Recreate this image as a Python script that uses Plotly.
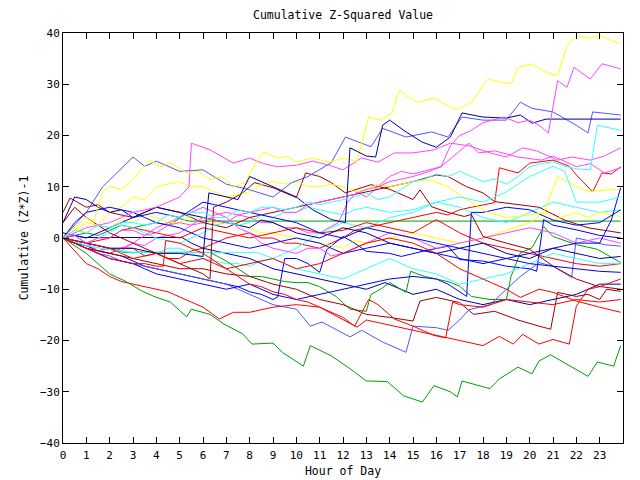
import plotly.graph_objects as go

# Each series: list of (hour, cumulative value)
yellow_top = [(0,0),(0.5,2),(1,4),(1.3,3),(1.7,9),(2,10),(2.5,9.5),(3,11.4),(3.7,15.2),(4.2,13.9),(4.6,14.7),(5.3,12.7),(5.8,13),(6.3,11.4),(6.8,12),(7.3,10),(7.8,10.8),(8.3,15),(8.6,16.8),(9.2,15.6),(9.6,16),(10,14.8),(10.7,15.6),(11.4,14.8),(12,15.6),(12.6,15),(13.1,23.6),(13.6,23),(14.1,24.4),(14.4,28.8),(14.8,27.5),(15.2,26.5),(15.9,27.3),(16.4,26),(16.9,25),(17.5,26.5),(18.2,31),(18.7,30.5),(19.2,30),(19.5,33.3),(20.1,34),(20.7,32.3),(21.2,31.7),(21.6,37.6),(22,39.5),(22.6,39),(23,39.6),(23.5,38.5),(23.9,38)]
yellow_mid = [(0,0),(0.5,1.5),(1,3),(1.5,2.5),(2,5),(2.5,6),(3,8),(3.5,7.5),(4,10),(4.5,10.5),(5,11),(5.5,10),(6,10),(6.5,9),(7,8),(7.5,8.5),(8,9),(8.5,10.5),(9,11),(9.5,10.5),(10,11),(10.5,10),(11,10),(11.5,10.5),(12,10),(12.5,9),(13,9.5),(13.5,10.5),(14,10),(14.5,10.5),(15,11),(15.7,11.4),(16.5,10),(17.3,7.5),(18.2,5),(19,4),(20,4.5),(20.6,5),(21.2,12),(22,10),(22.6,9),(23.2,9.4),(23.9,9.4)]
yellow_low = [(0,0),(0.5,2),(1,1),(1.5,2.5),(2,2),(2.5,3.5),(3,3),(3.5,4.5),(4,4),(4.5,3),(5,3),(5.5,4.5),(6,4),(6.5,3),(7,3),(7.5,2.5),(8,2),(8.5,1),(9,1),(9.5,0.5),(10,0),(11,-1),(12,-2),(12.5,-0.5),(13,-1),(14,0),(15,1),(16,0),(17,-1),(18,0),(19,1.5),(20,3),(20.7,5.1),(21,3.5),(22,5),(22.5,4),(23,5),(23.9,4.2)]

magenta_top = [(0,0),(0.5,0.5),(1,-1),(1.5,0),(2,0),(2.5,1.5),(3,1.5),(3.5,0.5),(4,1),(4.5,2.5),(5,3),(5.5,2.5),(6,4),(6.5,3.5),(7,3),(7.5,4.5),(8,5),(8.5,5.5),(9,6),(9.5,5),(10,5),(10.5,6.5),(11,7),(11.5,7.5),(12,8),(12.5,8.5),(13,9.5),(13.5,10),(14,11),(14.5,11.5),(15,12),(15.7,13),(16.2,13.9),(16.6,18),(17,20),(17.5,21),(18,22.5),(18.9,23.6),(19.5,22.5),(20,23),(20.4,22),(20.8,20.5),(21.2,30.7),(21.6,29.4),(21.9,33.3),(22.6,31),(23.1,34),(23.9,33)]
magenta_mid = [(0,0),(1,2),(2,3),(3,5),(4,6),(5,8),(5.4,10),(5.5,18.5),(6.3,17.2),(7.3,14.6),(8,15.6),(8.6,14.5),(9.2,13.9),(10,14.2),(10.7,15),(11.4,14.2),(12,13.3),(12.8,15.6),(13.5,14.8),(14.2,16.6),(15,16.6),(15.9,17.2),(16.6,18.5),(17.4,18),(18.3,16.6),(19,15.8),(19.7,17.6),(20.3,17),(21.2,15.2),(21.8,15.8),(22.6,15.2),(23.2,16),(23.9,17.6)]
magenta_low = [(0,0),(0.5,-0.5),(1,-1),(1.5,-2.5),(2,-2),(2.5,-2.5),(3,-1),(3.5,-1.5),(4,0),(4.5,0.5),(5,1),(5.5,2.5),(6,3),(6.5,4.5),(7,5),(7.5,4.5),(8,4),(8.5,3),(9,3),(9.5,2),(10,2),(10.5,1),(11,1),(11.8,3),(12.2,7),(12.6,9),(13,8),(14,12),(14.5,13),(15,12.5),(16.2,13.9),(17.4,18.5),(17.8,16.6),(18.5,17),(19.5,15.8),(20.5,15.2),(21,16),(22,13.9),(22.6,14.5),(23.2,12.7),(23.9,13.7)]
magenta_bot = [(0,0),(0.5,-0.5),(1,-1),(1.5,-2.5),(2,-2),(2.5,-2),(3,-1),(3.5,0.5),(4,2),(4.5,3),(5,4),(5.5,5),(6,6),(6.5,5),(7,4),(7.5,2),(8,1),(8.5,-1),(9,-2),(9.5,-2.5),(10,-3),(10.5,-2),(11,-2),(11.5,-3.5),(12,-3),(12.5,-2),(13,-1),(14,1),(15,0),(16,-2),(17,-1),(18,0),(19,1),(20,2),(21,1),(22,-1),(23,0),(23.9,-1)]

cyan_jump = [(0,0),(0.5,1.5),(1,1),(1.5,2.5),(2,2),(2.5,3),(3,3),(3.5,2.5),(4,3),(4.5,4.5),(5,4),(5.5,5),(6,5),(6.5,4),(7,4),(7.5,5.5),(8,5),(8.5,6),(9,6),(9.5,5.5),(10,6),(10.5,7),(11,6.5),(11.5,7),(12,7.5),(12.5,8),(13,8.8),(13.5,7.5),(14,8),(14.5,9.5),(15,11),(15.5,11.5),(16,12.5),(16.5,12),(17,13),(17.5,12),(18,11),(18.5,11.5),(19,10.5),(19.5,12),(20,13.9),(20.5,14.5),(21,14.9),(21.5,14),(22,13.5),(22.6,13.3),(22.9,22),(23.4,21.5),(23.9,21)]
cyan_mid = [(0,0),(0.5,0.5),(1,-1),(1.5,0),(2,1),(2.5,2.5),(3,2),(3.5,1),(4,0),(4.5,-0.5),(5,-1),(5.5,0),(6,1),(6.5,2.5),(7,3),(7.5,2.5),(8,3),(8.5,4.5),(9,4),(9.5,5),(10,5),(10.5,6),(11,5.5),(11.5,5),(12,4.5),(12.5,5.5),(13,6),(13.5,5.5),(14,5),(15,5.5),(16,7),(17,8),(18,7),(19,9),(20,12),(21,14),(21.5,13),(22,7),(23,7),(23.9,8)]
cyan_low = [(0,0),(0.5,-0.5),(1,-1),(1.5,-1.5),(2,-2),(2.5,-2.5),(3,-3),(3.5,-2.5),(4,-3),(4.5,-2),(5,-2),(5.5,-3),(6,-4),(6.5,-4.5),(7,-5),(7.5,-5),(8,-5.5),(8.5,-4.5),(9,-4),(9.5,-3),(10,-2),(10.5,-0.5),(11,1),(11.5,2),(12,3),(13,2),(14,4),(15,5),(16,7),(17,6),(18,4),(19,3),(20,5),(21,7),(22,6),(23,5),(23.9,5.5)]
cyan_flat = [(0,0),(1,-1.5),(2,-2.3),(2.9,-2.8),(8.3,-2.8),(9,-4),(10,-6),(11,-7),(12,-8),(13,-6),(14,-4),(15,-6),(16,-7),(17,-9),(18,-8),(19,-7),(20,-5),(21,-3),(22,-4),(23,-5),(23.9,-5)]

green_flat = [(0,0),(0.5,0.5),(1,1),(1.5,0.5),(2,1.5),(2.5,2.5),(3,2),(3.5,2.5),(4,3),(4.5,2.5),(5,3.8),(5.4,3.3),(23.9,3.3)]
green_mid = [(0,0),(0.5,-0.5),(1,-1),(1.5,-1.5),(2,-2),(2.6,-2.8),(6.3,-2.8),(7,-4.5),(7.5,-6),(8,-7.5),(8.5,-7.5),(9,-8),(9.5,-8.5),(10,-8.7),(10.5,-8.7),(11,-9.5),(11.7,-11.4),(12.3,-13.9),(13,-14.3),(13.2,-11),(13.6,-10),(14,-8.7),(14.7,-10.6),(14.9,-6.5),(15.5,-7.5),(16,-8),(16.5,-8.5),(17,-9.4),(17.5,-11.4),(18.3,-12),(19,-12),(19.2,-7.5),(19.6,-2.9),(20.1,-1.9),(20.6,2.2),(21,0.3),(22,-1.3),(22.9,-2.2),(23.9,-4.8)]
green_bottom = [(0,0),(0.5,-1.5),(1,-3),(1.5,-5),(2,-7),(2.7,-8.5),(3.4,-10.4),(3.9,-11.4),(4.6,-12.5),(5.3,-15.4),(5.5,-13.9),(6.3,-14.9),(6.9,-16.8),(7.7,-18.7),(8.1,-20.7),(9,-20.5),(9.4,-22.3),(10.3,-25),(10.6,-21),(11.5,-23),(12.3,-25.5),(13,-27.9),(13.9,-28),(14.6,-30.8),(15.4,-32),(15.9,-28.8),(16.6,-30),(16.9,-31),(17.1,-27.9),(18.3,-29.4),(18.7,-27.5),(19.5,-25.2),(20.1,-26.5),(20.4,-24),(20.9,-22.8),(22.5,-27),(22.9,-24.2),(23.6,-25),(23.9,-21)]

red_upper = [(0,0),(0.5,-1),(1,-2),(1.5,-2.5),(2,-3),(2.5,-2),(3,-2),(3.5,-3.5),(4,-3),(4.5,-4),(5,-4),(5.5,-2.5),(6,-2),(6.5,-1),(7,0),(7.5,0.5),(8,1),(8.5,0),(9,0),(9.5,-1),(10,-1),(10.5,-1.5),(11,-2),(11.5,-1),(12,0),(12.5,1.5),(13,2),(13.5,2.5),(14,3),(14.5,3.5),(15,4),(15.5,4.5),(16,5),(16.5,4.5),(17,5.5),(17.5,6),(18,6.5),(18.5,6.9),(18.7,13.7),(19.5,12.7),(20,14.6),(21,15.2),(21.7,14),(22,12.3),(22.7,9),(23.1,12.7),(23.5,12.5),(23.9,13.9)]
red_mid = [(0,0),(0.5,0.5),(1,-1),(1.5,-0.5),(2,0),(2.5,1.5),(3,2),(3.5,1.5),(4,1),(4.5,0.5),(5,0),(5.5,1),(6,2),(6.5,1.5),(7,1),(7.5,0.5),(8,0),(8.5,0.5),(9,1),(9.5,1.5),(10,2),(10.5,1.5),(11,1),(12,1.5),(13,3),(14,2),(15,1),(16,3.6),(17,1),(18,-1),(19,-2),(20,-3),(21,-4),(22,-5),(23,-5.5),(23.9,-5)]
red_low = [(0,0),(0.5,-2.5),(1,-5),(1.5,-6),(2,-7.5),(2.5,-8.5),(3,-9),(3.5,-9.5),(4,-10),(4.5,-10.5),(5,-11.5),(5.5,-12.5),(6,-13.5),(6.7,-15.8),(7.3,-14.5),(8,-14.5),(9,-13.5),(10,-13),(11,-13.5),(11.7,-15.2),(12.6,-17.4),(13,-16),(14,-17),(15,-18),(16,-19),(17,-20),(18,-21),(18.7,-19.2),(19.3,-20.7),(19.7,-18.8),(20.4,-20.7),(21,-19.8),(21.7,-20.7),(22,-13.3),(22.5,-10),(23,-9.5),(23.9,-8)]
red_low2 = [(0,0),(0.5,-0.5),(1,-1),(1.5,-1.5),(2,-2),(2.5,-3),(3,-4),(3.5,-3.5),(4,-3),(4.5,-4),(5,-5),(5.5,-4.5),(6,-4),(6.5,-5),(7,-6),(7.5,-5.5),(8,-5),(8.5,-4.5),(9,-4),(9.5,-5),(10,-6),(10.5,-5.5),(11,-5),(12,-3),(13,-1),(14,0),(15,-1),(16,-3),(17,-6),(18,-8),(19,-10),(19.6,-11.6),(20.4,-10),(21,-10.6),(22,-12.3),(23,-13.5),(23.9,-14.5)]
red_jump = [(0,0),(0.5,-1),(1,-2),(1.5,-3),(2,-4),(2.5,-4.5),(3,-5),(3.5,-5),(4,-5.5),(4.3,-5.5),(4.4,-0.5),(5,-1),(5.5,-2),(6,-3),(6.5,-4.5),(7,-6),(7.5,-7.5),(8,-9),(8.5,-9.5),(9,-10.5),(9.5,-11),(10,-12),(10.5,-12.5),(11,-13.5),(11.5,-14.5),(12,-15.5),(12.5,-17.2),(13.1,-12),(13.5,-13),(14.2,-15.8),(15,-17.2),(15.9,-19),(16.4,-19.5),(16.7,-12.5),(17,-13),(18,-13.5),(19,-12),(20,-12.5),(21,-13),(22,-12),(23,-12.5),(23.9,-12)]

dkred_a = [(0,5),(0.3,7.8),(1,6),(1.5,6.5),(2,5),(2.5,4.5),(3,4),(3.5,5),(4,6),(4.5,5.5),(5,5),(5.5,4),(6,3),(6.5,2.5),(7,2),(7.5,3),(8,4),(8.5,4.5),(9,5),(9.5,5.5),(10,6),(10.5,6.5),(11,7),(11.5,7.5),(12,8),(13,9),(14,10),(15,11),(16,12.3),(16.5,12),(17.3,10),(18,8.8),(18.5,7.1),(19.5,6.5),(20.4,6),(21.5,3.5),(22.5,2),(23.9,1)]
dkred_b = [(0,3),(0.5,6),(1,4),(1.5,2.5),(2,1),(2.5,0),(3,-1),(3.5,-2),(4,-3),(4.5,-4),(5,-5),(5.5,-6),(6,-7),(6.3,-8),(6.45,6),(7,7),(7.7,8.8),(8.2,10.8),(9,9.8),(10,7.9),(10.4,12.7),(11,12),(11.5,10.8),(12.1,8.8),(12.6,9.5),(13.2,10.4),(14,9.5),(15,7.5),(15.3,9.4),(15.8,6.1),(16.5,5),(17.2,4.2),(17.5,4.6),(18,0.3),(19,-1),(20,-2.2),(21,-5.5),(22,-8),(22.9,-9.4),(23.9,-10)]
dkred_c = [(0,0),(0.5,-1),(1,-2),(1.5,-2.5),(2,-3),(2.5,-3.5),(3,-4),(3.5,-4.5),(4,-5),(4.5,-5.5),(5,-6),(6,-6),(7,-7),(8,-7.5),(9,-9),(10,-10),(11,-12),(12,-13),(13,-14.9),(14,-15.5),(15,-16.2),(15.3,-12.3),(16,-11.6),(17,-12.6),(17.6,-14.9),(18.5,-14.3),(19.5,-16),(20.4,-17.2),(20.9,-17.8),(21.2,-10.6),(22,-11.4),(22.5,-11),(23,-12),(23.3,-10),(23.9,-10.4)]

dkblue_top = [(0,0),(0.5,-0.5),(1,-1),(1.5,-1.5),(2,-2),(3,-2),(4,-3),(5,-3),(6,-3.6),(6.25,8.8),(7,8),(7.5,7.5),(8,12),(8.5,11),(9,10),(9.5,9),(10,8),(10.7,5.5),(11.5,3.6),(12.1,3),(12.3,17.6),(13,16),(13.4,15.8),(13.7,22),(14,23),(14.7,20.7),(15.4,18.7),(16,17.7),(16.6,19.7),(17.1,24.4),(18,23.6),(19,23.4),(19.6,24),(20.1,22.4),(20.7,23.2),(23.9,23.2)]
dkblue_flat = [(0,1),(0.9,0.1),(5.1,0.1),(5.5,-1),(6,-2),(7,-3),(8,-4),(9,-6),(10,-7),(11,-8),(12,-9),(13,-10),(13.8,-8.7),(14.5,-10),(15,-11),(16,-10),(17,-12),(18,-13),(19,-12),(20,-13),(21,-12),(22,-11),(23,-9),(23.9,-9)]
dkblue_c = [(0,3),(0.5,8),(1,7.5),(1.5,6),(2,5),(2.5,5.5),(3,4),(3.5,5),(4,6),(4.5,5.5),(5,5),(5.5,4.5),(6,4),(6.5,3.5),(7,3),(7.5,2.5),(8,2),(8.5,3.5),(9,3),(9.5,2),(10,1),(11,0),(12,2),(13,1),(14,-1),(15,-2),(16,-3),(17,-2),(18,-1),(19,-3),(20,-4),(21,-2),(22,-3),(23,-4),(23.9,-3.6)]
slate_top = [(0,0),(1,5),(1.7,10),(3,15.8),(3.5,14),(4,15),(5,13),(6,13.3),(7,10.5),(8,9.4),(9,8),(9.8,10.8),(10.5,12),(11.5,14.7),(12.1,19.7),(13.2,17.8),(13.7,21.4),(14.7,19.7),(15.8,20.7),(16.5,19.7),(17.1,23.6),(18,23),(19,23),(19.6,26.5),(20.1,25.3),(21,24.6),(22,22),(22.5,20.5),(22.7,24.6),(23.9,24)]
slate_low = [(0,0),(0.5,-1),(1,-2),(1.5,-3),(2,-3.5),(2.5,-4.5),(3,-5),(3.5,-5.5),(4,-6),(4.5,-6.5),(5,-7),(5.5,-7.5),(6,-8),(6.5,-8.5),(7,-9),(8,-11),(9,-13),(10,-13.9),(10.6,-17.2),(11.1,-16.4),(12.3,-19.3),(12.8,-18),(13.7,-20.3),(14.7,-22.3),(15,-17.2),(16,-17.5),(16.5,-18),(17,-16),(17.4,-14),(18.3,-13),(19,-10),(19.6,-7.5),(20.4,-4.8),(21,-5.5),(21.8,-7.7),(22,0),(22.5,-0.5),(23.2,-1.3),(23.9,-1.6)]
blue_a = [(0,0),(0.5,-1),(1,-1.5),(1.5,-2.5),(2,-3),(2.5,-3.5),(3,-4.5),(3.5,-5.5),(4,-6),(4.5,-6.5),(5,-7),(5.5,-7.5),(6,-8),(6.5,-8.5),(7,-9),(7.5,-9.5),(8,-10.5),(8.5,-11),(9,-12),(9.2,-11.5),(9.5,-4),(10,-4),(10.5,-5),(11,-6.7),(11.3,-2.3),(12,0.3),(12.5,-1),(13,-2.6),(14,-3),(14.5,-3.6),(15.5,-2.5),(16.5,-1.6),(17,-4.2),(18,-4.5),(19,-5.5),(20,-6),(20.3,-6.5),(20.6,3.6),(21,2.5),(22,1.6),(23,0.5),(23.9,0)]
blue_b = [(0,0),(0.5,-1),(1,-2),(1.5,-3),(2,-4),(2.5,-4.5),(3,-5),(3.5,-6),(4,-7),(4.5,-7.5),(5,-8),(5.5,-8.5),(6,-9),(6.5,-9.5),(7,-10),(8,-9),(9,-11),(10,-12),(11,-11),(12,-10),(13,-9),(14,-8),(15,-7.5),(16,-8),(16.5,-9),(17.3,-11.4),(17.5,5),(18,5),(19,6),(20,5.5),(21,3.5),(22,2.5),(23,3),(23.9,5.5)]
blue_c = [(0,0),(0.5,3),(1,5),(1.5,5.5),(2,6),(2.5,5.5),(3,5),(3.5,4),(4,3),(4.5,2.5),(5,2),(5.5,1),(6,0),(6.5,-0.5),(7,-1),(8,-2),(9,-1),(10,0),(11,-1),(12,-3),(13,-2),(14,-1),(15,-2),(16,-3),(17,-4),(18,-5),(19,-4),(20,-3),(21,-2),(22,-1),(23,-1),(23.5,3.5),(23.9,9.8)]
blue_d = [(0,0),(0.5,0.5),(1,0),(1.5,1),(2,2),(2.5,3),(3,4),(3.5,4.5),(4,5),(4.5,4.5),(5,4),(5.5,5.5),(6,7),(6.5,6.5),(7,6),(7.5,5.5),(8,5),(8.5,4.5),(9,4),(9.5,3.5),(10,3),(10.5,2),(11,1),(12,0),(13,2),(14,1),(15,0),(16,-1),(17,-2),(18,-3),(19,-4),(20,-5),(21,-5.5),(22,-6),(23,-6.5),(23.9,-6.7)]

RED, GREEN, BLUE, MAG, CYAN, DKRED, YEL = "#ff0000", "#00a000", "#0000ff", "#ff44ff", "#33ffff", "#a00000", "#ffff00"
DKBLUE, SLATE = "#0000a0", "#5555ff"

series = [
    (red_upper, RED), (green_flat, GREEN), (blue_a, BLUE), (magenta_low, MAG), (cyan_low, CYAN),
    (dkred_a, DKRED), (yellow_low, YEL), (slate_low, SLATE), (dkblue_flat, DKBLUE),
    (red_mid, RED), (green_mid, GREEN), (blue_b, BLUE), (magenta_bot, MAG), (cyan_flat, CYAN),
    (dkred_b, DKRED), (yellow_mid, YEL), (slate_top, SLATE), (dkblue_c, DKBLUE),
    (red_low, RED), (green_bottom, GREEN), (blue_c, BLUE), (magenta_mid, MAG), (cyan_mid, CYAN),
    (dkred_c, DKRED), (yellow_top, YEL), (dkblue_top, DKBLUE),
    (red_low2, RED), (blue_d, BLUE), (magenta_top, MAG), (cyan_jump, CYAN), (red_jump, RED),
]

fig = go.Figure()
for pts, col in series:
    fig.add_trace(go.Scatter(x=[p[0] for p in pts], y=[p[1] for p in pts], mode="lines",
                             line=dict(color=col, width=1), showlegend=False, hoverinfo="skip"))

FONT = "DejaVu Sans Mono"
hours = list(range(24))
fig.update_layout(
    width=640, height=480,
    margin=dict(l=63, r=17, t=33, b=37),
    paper_bgcolor="white", plot_bgcolor="white",
    font=dict(family=FONT, size=11, color="black"),
    title=dict(text="Cumulative Z-Squared Value", x=(63 + 623) / 2 / 640, xanchor="center",
               y=1 - 15 / 480, yanchor="middle", font=dict(family=FONT, size=11.5)),
    xaxis=dict(range=[0, 24], tickvals=hours, ticktext=[str(h) for h in hours],
               showgrid=False, zeroline=False, showline=True, linecolor="black", linewidth=1,
               mirror="allticks", ticks="inside", ticklen=6, tickcolor="black", automargin=False,
               tickfont=dict(size=11), ticklabelstandoff=2,
               title=dict(text="Hour of Day", standoff=5, font=dict(size=11.5))),
    yaxis=dict(range=[-40, 40], dtick=10, showgrid=False, zeroline=False, showline=True,
               linecolor="black", linewidth=1, mirror="allticks", ticks="inside", ticklen=6,
               tickcolor="black", automargin=False, tickfont=dict(size=11),
               title=dict(text="Cumulative (Z*Z)-1", standoff=8, font=dict(size=11.5))),
)
fig.write_html("out.html")
